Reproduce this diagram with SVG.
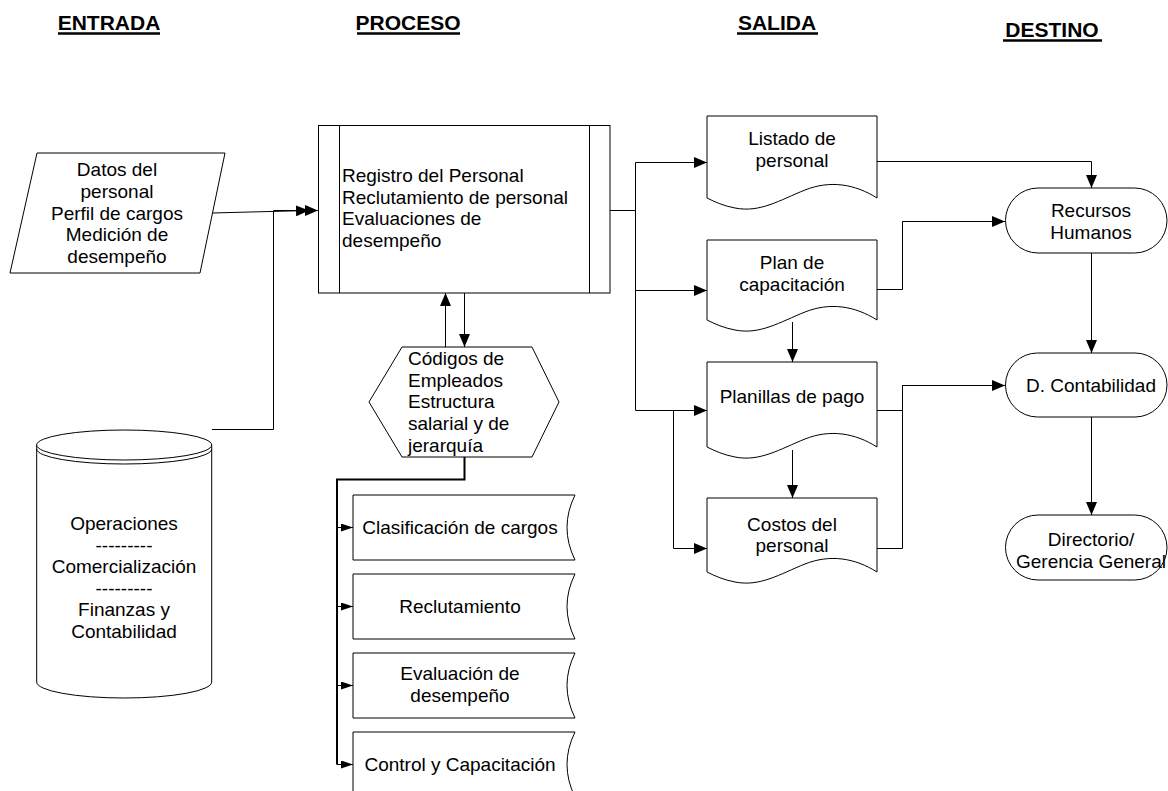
<svg xmlns="http://www.w3.org/2000/svg" width="1168" height="791" viewBox="0 0 1168 791">
  <style>
    .shape { fill: #fff; stroke: #000; stroke-width: 1; }
    .line { fill: none; stroke: #000; stroke-width: 1; }
    .thick { fill: none; stroke: #000; stroke-width: 2; }
    .txt { font-family: "Liberation Sans", Arial, sans-serif; font-size: 19px; fill: #000; }
    .mid { text-anchor: middle; }
    .head { font-family: "Liberation Sans", Arial, sans-serif; font-size: 21px; font-weight: bold; fill: #000; text-anchor: middle; }
    .uline { stroke: #000; stroke-width: 2.5; }
  </style>
  <defs>
    <marker id="arrow" markerUnits="userSpaceOnUse" markerWidth="13" markerHeight="11" refX="13" refY="5.5" orient="auto">
      <path d="M0,0 L13,5.5 L0,11 Z" fill="#000"/>
    </marker>
    <marker id="arrowSmall" markerUnits="userSpaceOnUse" markerWidth="12" markerHeight="8" refX="12" refY="4" orient="auto">
      <path d="M0,0 L12,4 L0,8 Z" fill="#000"/>
    </marker>
  </defs>

  <!-- column headings -->
  <g id="headings">
    <text class="head" x="109" y="30">ENTRADA</text>
    <line class="uline" x1="58" y1="33.5" x2="160" y2="33.5"/>
    <text class="head" x="408" y="30">PROCESO</text>
    <line class="uline" x1="357" y1="33.5" x2="460" y2="33.5"/>
    <text class="head" x="777" y="30">SALIDA</text>
    <line class="uline" x1="737" y1="33.5" x2="818" y2="33.5"/>
    <text class="head" x="1052" y="37">DESTINO</text>
    <line class="uline" x1="1003" y1="40.5" x2="1102" y2="40.5"/>
  </g>

  <!-- connectors -->
  <g id="connectors">
    <!-- inputs to process -->
    <path class="line" d="M212,213 L309,210.5" marker-end="url(#arrow)"/>
    <path class="line" d="M212,429.5 H273.5 V210.5 H318" marker-end="url(#arrow)"/>
    <!-- process outputs -->
    <path class="line" d="M610,210.5 H635.5"/>
    <path class="line" d="M635.5,162.5 V410.5"/>
    <path class="line" d="M635.5,162.5 H707" marker-end="url(#arrow)"/>
    <path class="line" d="M635.5,290.5 H707" marker-end="url(#arrow)"/>
    <path class="line" d="M635.5,410.5 H707" marker-end="url(#arrow)"/>
    <path class="line" d="M673.5,410.5 V548.5 H707" marker-end="url(#arrow)"/>
    <!-- between documents -->
    <path class="line" d="M792.5,322 V362" marker-end="url(#arrow)"/>
    <path class="line" d="M792.5,450 V498" marker-end="url(#arrow)"/>
    <!-- documents to destinations -->
    <path class="line" d="M877,161.5 H1091.5 V188" marker-end="url(#arrow)"/>
    <path class="line" d="M877,289.5 H902.5 V221.5 H1005" marker-end="url(#arrow)"/>
    <path class="line" d="M877,410.5 H902.5 V385.5 H1005" marker-end="url(#arrow)"/>
    <path class="line" d="M877,548.5 H902.5 V385.5"/>
    <path class="line" d="M1091.5,253 V353" marker-end="url(#arrow)"/>
    <path class="line" d="M1091.5,417 V515" marker-end="url(#arrow)"/>
    <!-- process and reference data -->
    <path class="line" d="M445.5,347 V293" marker-end="url(#arrow)"/>
    <path class="line" d="M464.5,293 V347" marker-end="url(#arrow)"/>
    <path class="thick" d="M464.5,457 V479.5 H337 V764.5"/>
    <path class="line" d="M337,527.5 H353" marker-end="url(#arrowSmall)"/>
    <path class="line" d="M337,606.5 H353" marker-end="url(#arrowSmall)"/>
    <path class="line" d="M337,685.5 H353" marker-end="url(#arrowSmall)"/>
    <path class="line" d="M337,764.5 H353" marker-end="url(#arrowSmall)"/>
  </g>

  <!-- input data -->
  <g id="datos-personal">
    <polygon class="shape" points="37,153 225,153 200,273 10,273"/>
    <text class="txt mid" x="117" y="176">Datos del</text>
    <text class="txt mid" x="117" y="198">personal</text>
    <text class="txt mid" x="117" y="219.5">Perfil de cargos</text>
    <text class="txt mid" x="117" y="241">Medición de</text>
    <text class="txt mid" x="117" y="263">desempeño</text>
  </g>

  <!-- data store -->
  <g id="areas">
    <path class="shape" d="M36.7,445 V682 A87.5,16 0 0 0 211.7,682 V445 Z"/>
    <ellipse class="shape" cx="124.2" cy="445" rx="87.5" ry="15"/>
    <path class="line" d="M36.7,449 A87.5,15 0 0 0 211.7,449"/>
    <text class="txt mid" x="124" y="530">Operaciones</text>
    <text class="txt mid" x="124" y="551.5">---------</text>
    <text class="txt mid" x="124" y="573">Comercialización</text>
    <text class="txt mid" x="124" y="594.5">---------</text>
    <text class="txt mid" x="124" y="616">Finanzas y</text>
    <text class="txt mid" x="124" y="637.5">Contabilidad</text>
  </g>

  <!-- predefined process -->
  <g id="proceso">
    <rect class="shape" x="318.5" y="125.5" width="291.5" height="167.5"/>
    <line class="line" x1="339.5" y1="125.5" x2="339.5" y2="293"/>
    <line class="line" x1="589.5" y1="125.5" x2="589.5" y2="293"/>
    <text class="txt" x="342" y="182">Registro del Personal</text>
    <text class="txt" x="342" y="203.5">Reclutamiento de personal</text>
    <text class="txt" x="342" y="225">Evaluaciones de</text>
    <text class="txt" x="342" y="247">desempeño</text>
  </g>

  <!-- preparation -->
  <g id="codigos">
    <polygon class="shape" points="402,347 532,347 559,402 532,457 402,457 369,402"/>
    <text class="txt" x="408" y="365">Códigos de</text>
    <text class="txt" x="408" y="386.5">Empleados</text>
    <text class="txt" x="408" y="408">Estructura</text>
    <text class="txt" x="408" y="430">salarial y de</text>
    <text class="txt" x="408" y="451.5">jerarquía</text>
  </g>

  <!-- stored data -->
  <g id="clasificacion">
    <path class="shape" d="M353,495 H575 Q559,527.5 575,560 H353 Z"/>
    <text class="txt mid" x="460" y="534">Clasificación de cargos</text>
  </g>
  <g id="reclutamiento">
    <path class="shape" d="M353,574 H575 Q559,606.5 575,639 H353 Z"/>
    <text class="txt mid" x="460" y="613">Reclutamiento</text>
  </g>
  <g id="evaluacion">
    <path class="shape" d="M353,653 H575 Q559,685.5 575,718 H353 Z"/>
    <text class="txt mid" x="460" y="680">Evaluación de</text>
    <text class="txt mid" x="460" y="701.5">desempeño</text>
  </g>
  <g id="control">
    <path class="shape" d="M353,732 H575 Q559,764.5 575,797 H353 Z"/>
    <text class="txt mid" x="460" y="771">Control y Capacitación</text>
  </g>

  <!-- documents -->
  <g id="listado">
    <path class="shape" d="M707,116 H877 V198 C855,184 830,180 805,190 C780,200 760,213 735,208 C724,206 715,202 707,198 Z"/>
    <text class="txt mid" x="792" y="145">Listado de</text>
    <text class="txt mid" x="792" y="167">personal</text>
  </g>
  <g id="plan">
    <path class="shape" d="M707,240 H877 V320 C855,306 830,302 805,312 C780,322 760,335 735,330 C724,328 715,324 707,320 Z"/>
    <text class="txt mid" x="792" y="269">Plan de</text>
    <text class="txt mid" x="792" y="291">capacitación</text>
  </g>
  <g id="planillas">
    <path class="shape" d="M707,362 H877 V447 C855,433 830,429 805,439 C780,449 760,462 735,457 C724,455 715,451 707,447 Z"/>
    <text class="txt mid" x="792" y="403">Planillas de pago</text>
  </g>
  <g id="costos">
    <path class="shape" d="M707,498 H877 V572 C855,558 830,554 805,564 C780,574 760,587 735,582 C724,580 715,576 707,572 Z"/>
    <text class="txt mid" x="792" y="531">Costos del</text>
    <text class="txt mid" x="792" y="552">personal</text>
  </g>

  <!-- destinations -->
  <g id="recursos-humanos">
    <rect class="shape" x="1005.5" y="188" width="161.5" height="65" rx="32.5" ry="32.5"/>
    <text class="txt mid" x="1091" y="217">Recursos</text>
    <text class="txt mid" x="1091" y="239">Humanos</text>
  </g>
  <g id="contabilidad">
    <rect class="shape" x="1005.5" y="353" width="161.5" height="64" rx="32" ry="32"/>
    <text class="txt mid" x="1091" y="392">D. Contabilidad</text>
  </g>
  <g id="directorio">
    <rect class="shape" x="1005.5" y="515" width="161.5" height="65" rx="32.5" ry="32.5"/>
    <text class="txt mid" x="1091" y="546">Directorio/</text>
    <text class="txt mid" x="1091" y="568">Gerencia General</text>
  </g>
</svg>
